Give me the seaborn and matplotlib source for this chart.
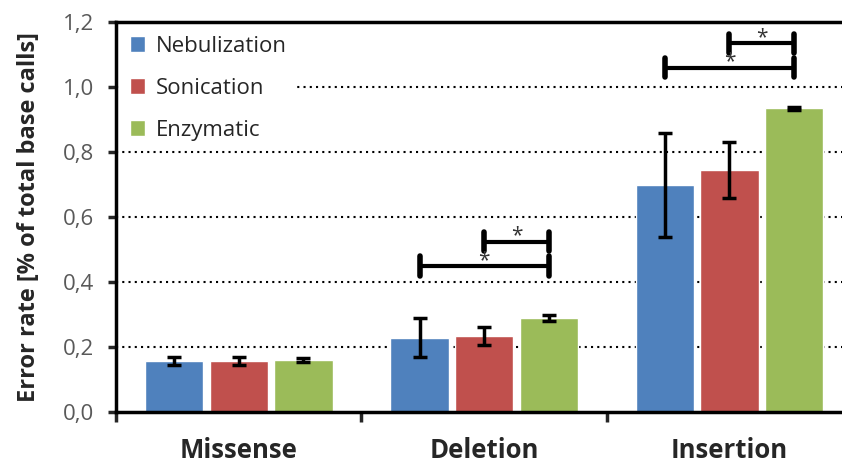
import matplotlib
matplotlib.use("Agg")
import matplotlib.pyplot as plt
import matplotlib.ticker as mticker
import seaborn as sns
import pandas as pd
import numpy as np

categories = ["Missense", "Deletion", "Insertion"]
methods = ["Nebulization", "Sonication", "Enzymatic"]
values = {
    "Nebulization": [0.157, 0.228, 0.700],
    "Sonication":   [0.157, 0.234, 0.745],
    "Enzymatic":    [0.160, 0.289, 0.935],
}
err_low = {
    "Nebulization": [0.012, 0.058, 0.160],
    "Sonication":   [0.012, 0.029, 0.085],
    "Enzymatic":    [0.006, 0.010, 0.005],
}
err_high = {
    "Nebulization": [0.012, 0.061, 0.160],
    "Sonication":   [0.012, 0.028, 0.085],
    "Enzymatic":    [0.006, 0.011, 0.005],
}
# significance brackets: (category index, from method idx, to method idx, y level)
brackets = [(1, 0, 2, 0.45), (1, 1, 2, 0.525), (2, 0, 2, 1.06), (2, 1, 2, 1.135)]
yticks = [0.0, 0.2, 0.4, 0.6, 0.8, 1.0, 1.2]
colors = ["#4F81BD", "#C0504D", "#9BBB59"]

rows = []
for m in methods:
    for c, v in zip(categories, values[m]):
        rows.append({"category": c, "method": m, "value": v})
df = pd.DataFrame(rows)

sns.set_style("white")
plt.rcParams["font.family"] = ["Open Sans", "DejaVu Sans"]

fig = plt.figure(figsize=(8.42, 4.63), dpi=100)
ax = fig.add_axes([0.138, 0.110, 0.874, 0.842])

sns.barplot(data=df, x="category", y="value", hue="method", order=categories,
            hue_order=methods, palette=colors, width=0.79, gap=0.1,
            errorbar=None, ax=ax, zorder=2, saturation=1)

# error bars at bar centers
for hi, m in enumerate(methods):
    cont = ax.containers[hi]
    xs = [p.get_x() + p.get_width() / 2 for p in cont.patches]
    ax.errorbar(xs, values[m], yerr=[err_low[m], err_high[m]], fmt="none",
                ecolor="black", elinewidth=2.5, capsize=5, capthick=2.5, zorder=4)

# gridlines
for y in yticks[1:-1]:
    ax.axhline(y, color="black", linestyle=(0, (1, 2)), linewidth=1.5, zorder=1)

# significance brackets
def bar_center(ci, mi):
    p = ax.containers[mi].patches[ci]
    return p.get_x() + p.get_width() / 2

for ci, a, b, y in brackets:
    x0, x1 = bar_center(ci, a), bar_center(ci, b)
    ax.plot([x0, x1], [y, y], color="black", lw=3, zorder=5, solid_capstyle="butt")
    for xx in (x0, x1):
        ax.plot([xx, xx], [y - 0.03, y + 0.03], color="black", lw=4, zorder=5,
                solid_capstyle="round")
    ax.text((x0 + x1) / 2, y + 0.017, "*", ha="center", va="center",
            fontsize=15, color="#333333", zorder=6)

ax.set_ylim(0, 1.2)
ax.set_xlim(-0.5, 2.5)
ax.set_yticks(yticks)
ax.yaxis.set_major_formatter(mticker.FuncFormatter(lambda v, p: f"{v:.1f}".replace(".", ",")))
ax.tick_params(axis="y", labelsize=16, labelcolor="#595959", length=6, width=2.5,
               direction="out", left=True, pad=10)
ax.set_xticks(range(len(categories)))
ax.set_xticklabels(categories, fontsize=18.5, fontweight="bold")
ax.tick_params(axis="x", length=0, pad=18)
ax.set_xticks([-0.5, 0.5, 1.5, 2.5], minor=True)
ax.tick_params(axis="x", which="minor", length=7, width=2.5, direction="out", bottom=True)
ax.set_xlabel("")
ax.set_ylabel("Error rate [% of total base calls]", fontsize=17, fontweight="bold",
              labelpad=16)

for s in ["left", "bottom", "top"]:
    ax.spines[s].set_visible(True)
    ax.spines[s].set_color("black")
    ax.spines[s].set_linewidth(2.5)
ax.spines["right"].set_visible(False)

leg = ax.legend(loc="upper left", bbox_to_anchor=(0.0, 1.0), frameon=True,
                facecolor="white", edgecolor="none", framealpha=1.0, fancybox=False,
                fontsize=16, handlelength=0.7, handleheight=0.7,
                handletextpad=0.5, labelspacing=0.95, borderaxespad=0.2,
                borderpad=0.4)
leg.set_zorder(10)
for t in leg.get_texts():
    t.set_color("#262626")

fig.savefig("out.png", dpi=100)
